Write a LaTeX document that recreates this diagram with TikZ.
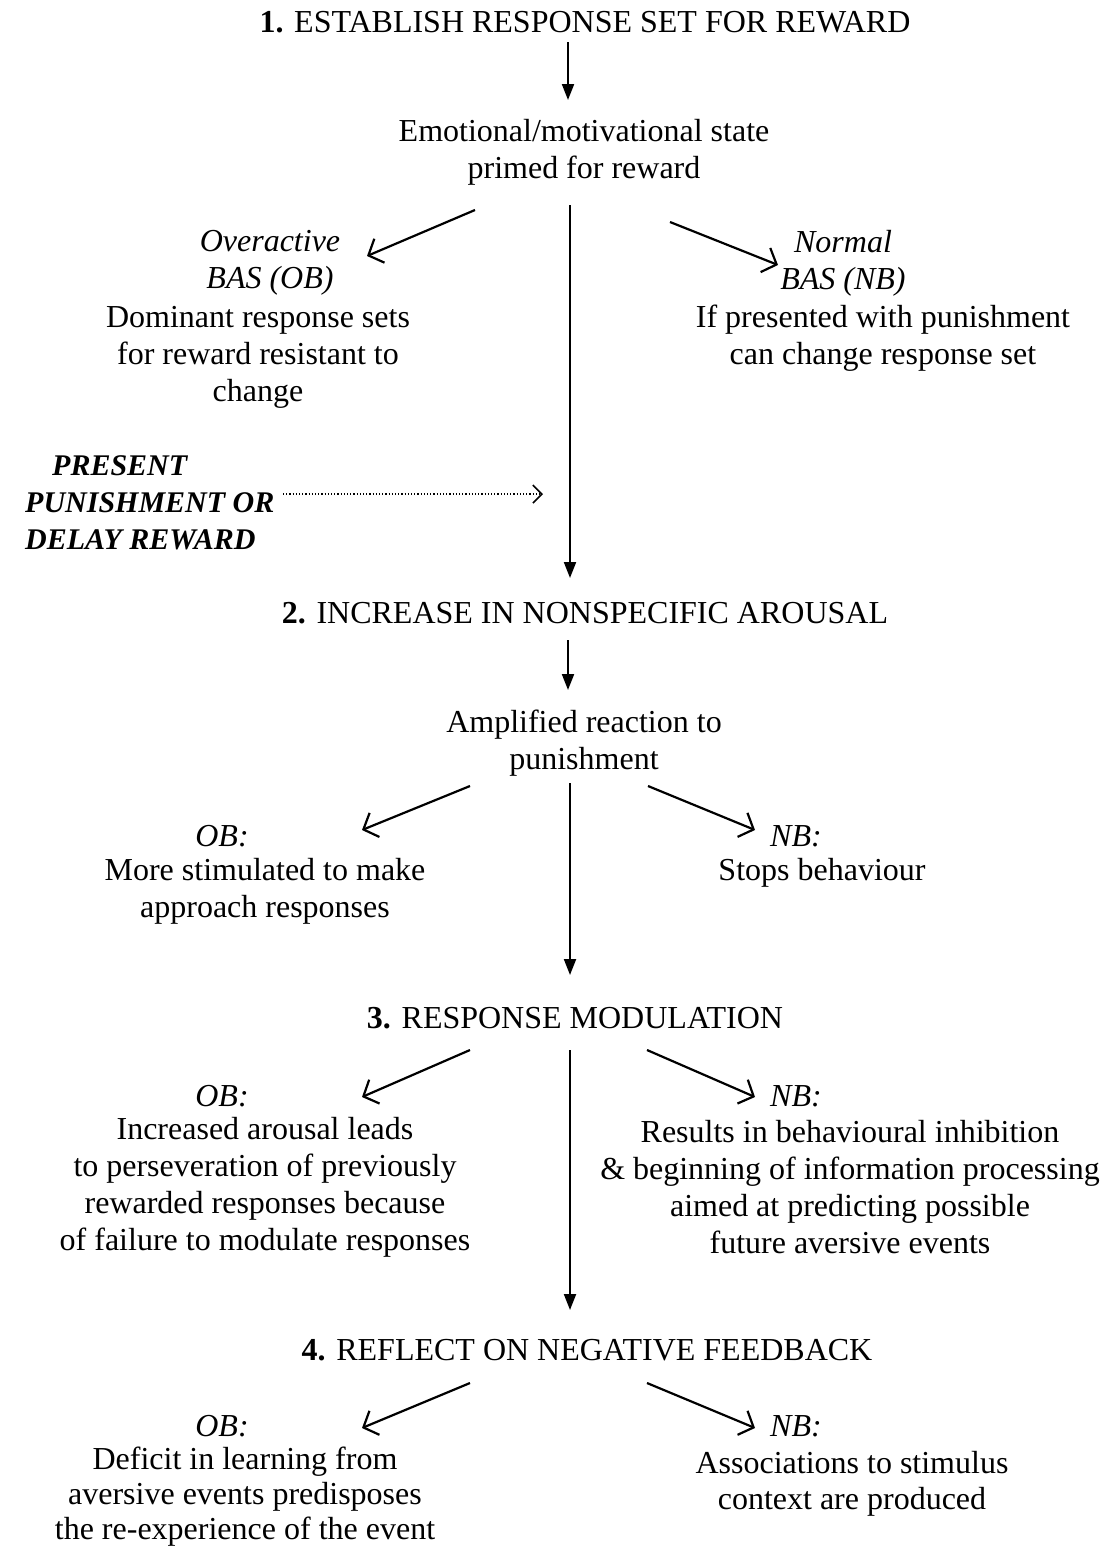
\documentclass[tikz,border=0pt]{standalone}
\usepackage{fontspec}
\setmainfont{Liberation Serif}
\usetikzlibrary{arrows.meta}
\newcommand{\msz}{\fontsize{32}{37}\selectfont}
\begin{document}
\begin{tikzpicture}[x=1pt,y=-1pt,
  txt/.style={font=\msz, align=center, inner sep=0pt},
  itxt/.style={font=\msz\itshape, align=center, inner sep=0pt},
  varrow/.style={line width=2pt, -{Triangle[length=16pt,width=12pt]}},
  darrow/.style={line width=2.2pt, -{Straight Barb[length=12pt,width=26pt,line width=2.2pt]}},
  dotarrow/.style={line width=1.2pt, dotted, -{Straight Barb[length=9pt,width=18pt,line width=1.6pt]}}]
\useasboundingbox (0,0) rectangle (1106,1548);

% Stage 1
\node[txt] (t1) at (585,22) {\textbf{1.} ESTABLISH RESPONSE SET FOR REWARD};
\node[txt] (s1) at (584,152) {Emotional/motivational state\\primed for reward};
\coordinate (v1s) at (568,42); \coordinate (v1e) at (568,100);
\draw[varrow] (v1s) -- (v1e);
\node[itxt] (ob1l) at (270,263) {Overactive\\BAS (OB)};
\node[txt] (ob1t) at (258,357) {Dominant response sets\\for reward resistant to\\change};
\node[itxt] (nb1l) at (843,263) {Normal\\BAS (NB)};
\node[txt] (nb1t) at (883,338) {If presented with punishment\\can change response set};
\coordinate (a1ls) at (475,210); \coordinate (a1le) at (367,256);
\coordinate (a1rs) at (670,222); \coordinate (a1re) at (778,265);
\draw[darrow] (a1ls) -- (a1le);
\draw[darrow] (a1rs) -- (a1re);

% Punishment
\node[font=\fontsize{30}{37}\selectfont\bfseries\itshape, align=left, inner sep=0pt, anchor=west] (pun) at (25,503)
  {\hspace*{27pt}PRESENT\\PUNISHMENT OR\\DELAY REWARD};
\coordinate (ps) at (283,494); \coordinate (pe) at (543,494);
\draw[dotarrow] (ps) -- (pe);

% Stage 2
\node[txt] (t2) at (585,613) {\textbf{2.} INCREASE IN NONSPECIFIC AROUSAL};
\coordinate (m1s) at (570,205); \coordinate (m1e) at (570,578);
\draw[varrow] (m1s) -- (m1e);
\node[txt] (s2) at (584,743) {Amplified reaction to\\punishment};
\coordinate (v2s) at (568,640); \coordinate (v2e) at (568,690);
\draw[varrow] (v2s) -- (v2e);
\node[itxt] (ob2l) at (222,836) {OB:};
\node[txt] (ob2t) at (265,891) {More stimulated to make\\approach responses};
\node[itxt] (nb2l) at (796,836) {NB:};
\node[txt] (nb2t) at (822,873) {Stops behaviour};
\coordinate (a2ls) at (470,786); \coordinate (a2le) at (362,830);
\coordinate (a2rs) at (648,786); \coordinate (a2re) at (755,830);
\draw[darrow] (a2ls) -- (a2le);
\draw[darrow] (a2rs) -- (a2re);

% Stage 3
\node[txt] (t3) at (575,1018) {\textbf{3.} RESPONSE MODULATION};
\coordinate (m2s) at (570,783); \coordinate (m2e) at (570,975);
\draw[varrow] (m2s) -- (m2e);
\node[itxt] (ob3l) at (222,1096) {OB:};
\node[txt] (ob3t) at (265,1187) {Increased arousal leads\\to perseveration of previously\\rewarded responses because\\of failure to modulate responses};
\node[itxt] (nb3l) at (796,1096) {NB:};
\node[txt] (nb3t) at (850,1187) {Results in behavioural inhibition\\\& beginning of information processing\\aimed at predicting possible\\future aversive events};
\coordinate (a3ls) at (470,1050); \coordinate (a3le) at (362,1097);
\coordinate (a3rs) at (647,1050); \coordinate (a3re) at (755,1097);
\draw[darrow] (a3ls) -- (a3le);
\draw[darrow] (a3rs) -- (a3re);

% Stage 4
\node[txt] (t4) at (587,1350) {\textbf{4.} REFLECT ON NEGATIVE FEEDBACK};
\coordinate (m3s) at (570,1050); \coordinate (m3e) at (570,1310);
\draw[varrow] (m3s) -- (m3e);
\node[itxt] (ob4l) at (222,1426) {OB:};
\node[txt, font=\fontsize{32}{35}\selectfont] (ob4t) at (245,1497) {Deficit in learning from\\aversive events predisposes\\the re-experience of the event};
\node[itxt] (nb4l) at (796,1426) {NB:};
\node[txt, font=\fontsize{32}{36}\selectfont] (nb4t) at (852,1484) {Associations to stimulus\\context are produced};
\coordinate (a4ls) at (470,1383); \coordinate (a4le) at (362,1428);
\coordinate (a4rs) at (647,1383); \coordinate (a4re) at (755,1428);
\draw[darrow] (a4ls) -- (a4le);
\draw[darrow] (a4rs) -- (a4re);
\end{tikzpicture}
\end{document}
